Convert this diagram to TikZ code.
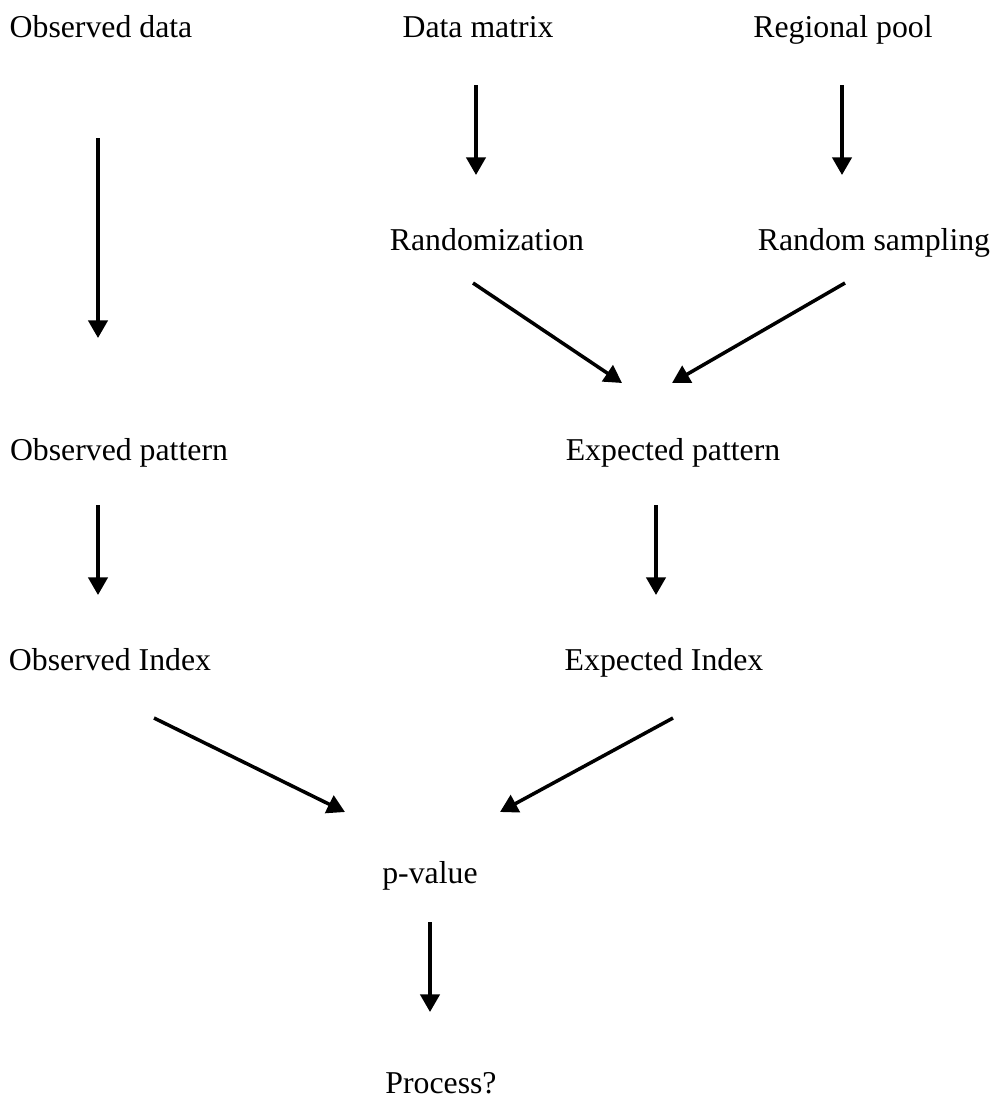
\documentclass[tikz,border=0pt]{standalone}
\usepackage{fontspec}
\setmainfont{Liberation Serif}
\usetikzlibrary{arrows.meta, calc}

\begin{document}
\begin{tikzpicture}[
    x=0.025cm, y=-0.025cm,
    txt/.style={anchor=base, inner sep=0pt, font=\fontsize{22.6}{27}\selectfont},
    arrow/.style={-{Triangle[length=0.44cm, width=0.48cm]}, line width=2.5pt}
]
\useasboundingbox (0,0) rectangle (992,1098);

% Inputs
\node[txt] (obsdata) at (101,37) {Observed data};
\node[txt] (datamat) at (478,37) {Data matrix};
\node[txt] (regpool) at (843,37) {Regional pool};

% Null models
\node[txt] (rand) at (487,250) {Randomization};
\node[txt] (randsamp) at (874,250) {Random sampling};

% Patterns
\node[txt] (obspat) at (119,460) {Observed pattern};
\node[txt] (exppat) at (673,460) {Expected pattern};

% Indices
\node[txt] (obsidx) at (110,670) {Observed Index};
\node[txt] (expidx) at (664,670) {Expected Index};

% Test
\node[txt] (pval) at (430,883) {p-value};
\node[txt] (process) at (441,1093) {Process?};

% Arrows
\draw[arrow] ($(obsdata.base)+(-3,101)$) -- ($(obspat.base)+(-21,-122)$);
\draw[arrow] ($(datamat.base)+(-2,48)$) -- ($(rand.base)+(-11,-75)$);
\draw[arrow] ($(regpool.base)+(-1,48)$) -- ($(randsamp.base)+(-32,-75)$);
\draw[arrow] ($(rand.base)+(-14,33)$) -- ($(exppat.base)+(-51,-77)$);
\draw[arrow] ($(randsamp.base)+(-29,33)$) -- ($(exppat.base)+(-1,-77)$);
\draw[arrow] ($(obspat.base)+(-21,45)$) -- ($(obsidx.base)+(-12,-75)$);
\draw[arrow] ($(exppat.base)+(-17,45)$) -- ($(expidx.base)+(-8,-75)$);
\draw[arrow] ($(obsidx.base)+(44,48)$) -- ($(pval.base)+(-85,-71)$);
\draw[arrow] ($(expidx.base)+(9,48)$) -- ($(pval.base)+(70,-71)$);
\draw[arrow] ($(pval.base)+(0,39)$) -- ($(process.base)+(-11,-81)$);

\end{tikzpicture}
\end{document}
